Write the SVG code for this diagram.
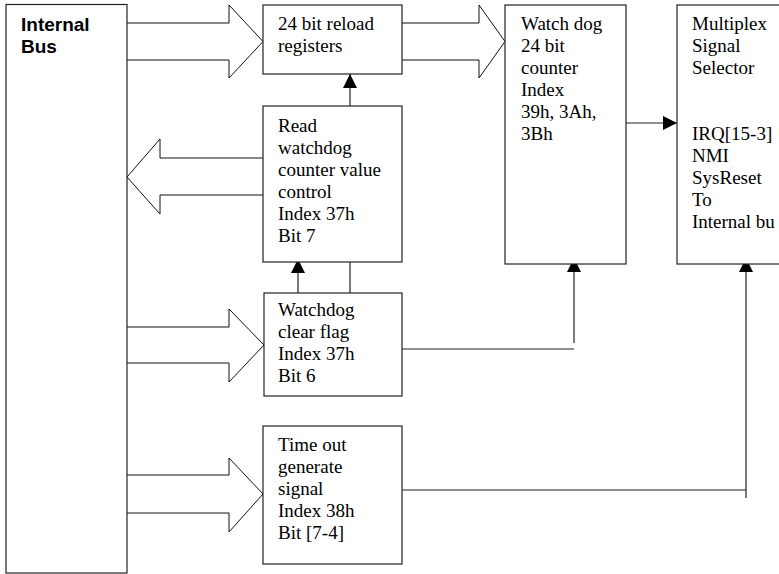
<svg xmlns="http://www.w3.org/2000/svg" width="779" height="574" viewBox="0 0 779 574">
<defs>
<marker id="ah" markerWidth="14" markerHeight="14" viewBox="0 0 14 14" refX="14" refY="7" orient="auto" markerUnits="userSpaceOnUse">
<path d="M0,0 L14,7 L0,14 Z" fill="#000"/>
</marker>
<style>
.box{fill:#fff;stroke:#222;stroke-width:1.2}
.big{fill:#fff;stroke:#111;stroke-width:1}
.ln{fill:none;stroke:#222;stroke-width:1.2}
.t{font-family:"Liberation Serif","Times New Roman",serif;font-size:19px;fill:#000}
.b{font-family:"Liberation Sans",Arial,sans-serif;font-size:19px;font-weight:bold;fill:#000}
</style>
</defs>
<rect width="779" height="574" fill="#fff"/>
<g id="connectors">
<path class="big" d="M127,23 H229 V5 L263,41.5 L229,78 V60 H127"/>
<path class="big" d="M402,23 H479 V5 L505,41.5 L479,78 V60 H402"/>
<path class="big" d="M264,158 H160 V139 L127,177 L160,214 V195 H264"/>
<path class="big" d="M127,327 H229 V309 L264,345 L229,382 V363 H127"/>
<path class="big" d="M127,475 H229 V458 L263,494 L229,532 V513 H127"/>
<line class="ln" x1="350" y1="106" x2="350" y2="74" marker-end="url(#ah)"/>
<line class="ln" x1="298" y1="293" x2="298" y2="259" marker-end="url(#ah)"/>
<line class="ln" x1="350" y1="293" x2="350" y2="258"/>
<line class="ln" x1="626" y1="123" x2="677" y2="123" marker-end="url(#ah)"/>
<polyline class="ln" points="402,349 574,349"/>
<line class="ln" x1="574" y1="343" x2="574" y2="258" marker-end="url(#ah)"/>
<polyline class="ln" points="402,490 746,490"/>
<line class="ln" x1="746" y1="498" x2="746" y2="258" marker-end="url(#ah)"/>
</g>
<g id="internal-bus">
<rect class="box" x="6" y="4.5" width="121" height="568.5"/>
<text class="b" x="21" y="30.5">Internal</text>
<text class="b" x="21" y="53">Bus</text>
</g>
<g id="reload">
<rect class="box" x="263" y="5" width="139" height="69"/>
<text class="t" x="278" y="30">24 bit reload</text>
<text class="t" x="278" y="52">registers</text>
</g>
<g id="watchdog-counter">
<rect class="box" x="505" y="5" width="121" height="259"/>
<text class="t" x="521" y="30">Watch dog</text>
<text class="t" x="521" y="52">24 bit</text>
<text class="t" x="521" y="74">counter</text>
<text class="t" x="521" y="96">Index</text>
<text class="t" x="521" y="118">39h, 3Ah,</text>
<text class="t" x="521" y="140">3Bh</text>
</g>
<g id="multiplex">
<rect class="box" x="677" y="5" width="140" height="259"/>
<text class="t" x="692" y="30">Multiplex</text>
<text class="t" x="692" y="52">Signal</text>
<text class="t" x="692" y="74">Selector</text>
<text class="t" x="692" y="140">IRQ[15-3]</text>
<text class="t" x="692" y="162">NMI</text>
<text class="t" x="692" y="184">SysReset</text>
<text class="t" x="692" y="206">To</text>
<text class="t" x="692" y="228">Internal bu</text>
</g>
<g id="read-control">
<rect class="box" x="263" y="106" width="139" height="156"/>
<text class="t" x="278" y="132">Read</text>
<text class="t" x="278" y="154">watchdog</text>
<text class="t" x="278" y="176">counter value</text>
<text class="t" x="278" y="198">control</text>
<text class="t" x="278" y="220">Index 37h</text>
<text class="t" x="278" y="242">Bit 7</text>
</g>
<g id="clear-flag">
<rect class="box" x="264" y="293" width="138" height="103"/>
<text class="t" x="278" y="316">Watchdog</text>
<text class="t" x="278" y="338">clear flag</text>
<text class="t" x="278" y="360">Index 37h</text>
<text class="t" x="278" y="382">Bit 6</text>
</g>
<g id="timeout">
<rect class="box" x="263" y="426" width="139" height="138"/>
<text class="t" x="278" y="451">Time out</text>
<text class="t" x="278" y="473">generate</text>
<text class="t" x="278" y="495">signal</text>
<text class="t" x="278" y="517">Index 38h</text>
<text class="t" x="278" y="539">Bit [7-4]</text>
</g>
</svg>
